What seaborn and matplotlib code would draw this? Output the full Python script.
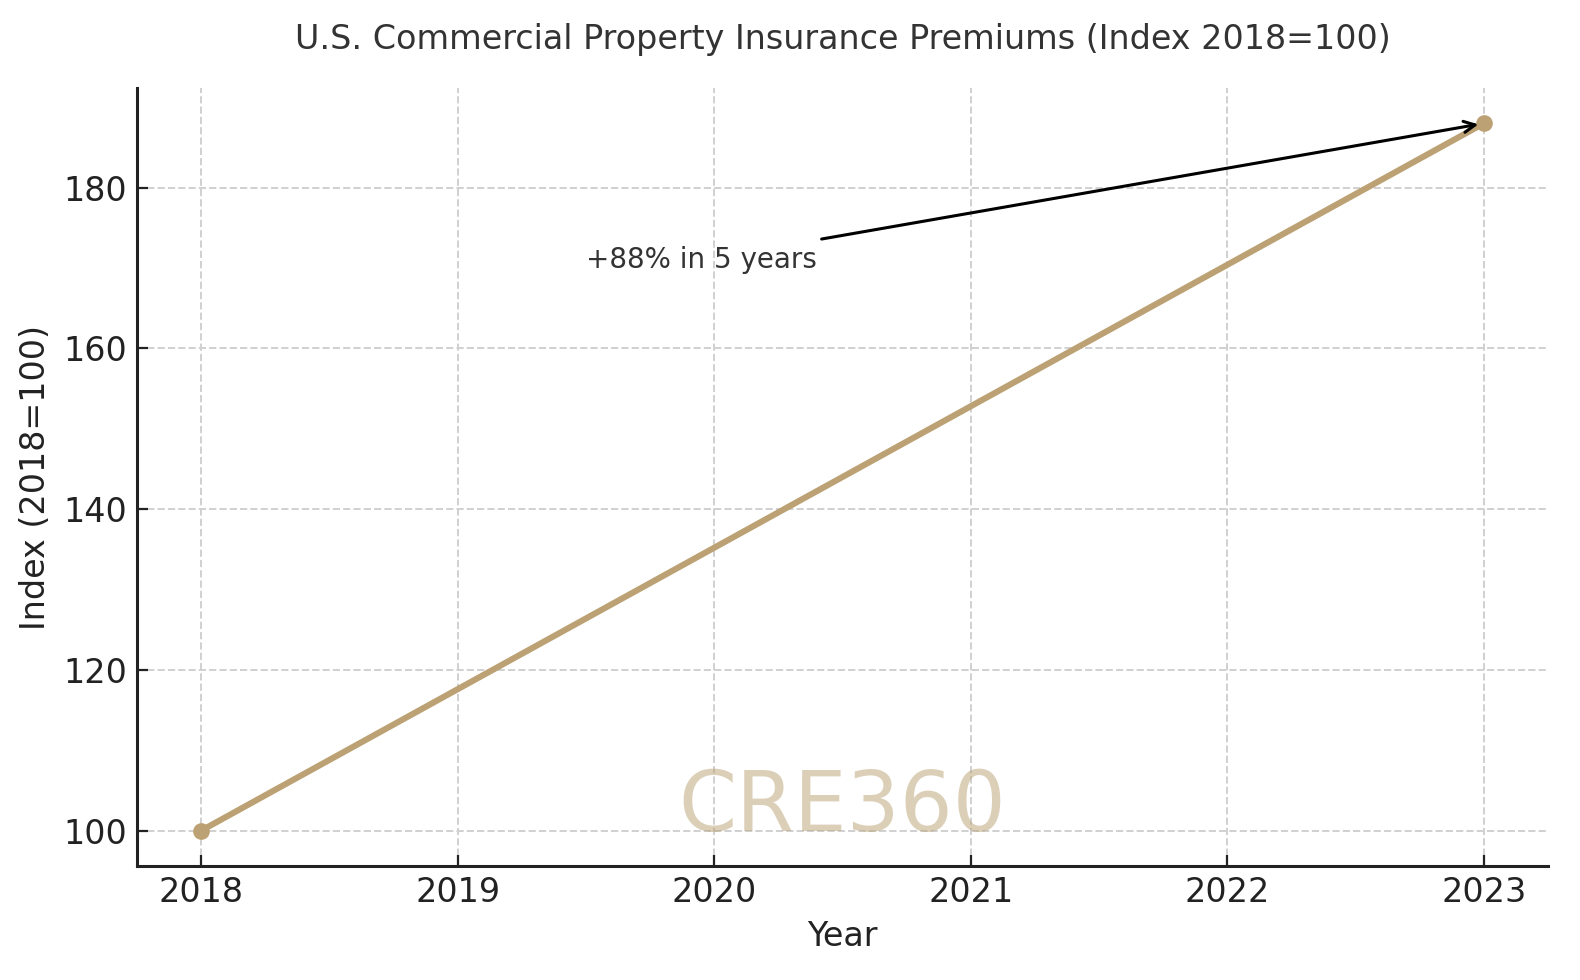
import matplotlib
matplotlib.use("Agg")
import matplotlib.pyplot as plt
import seaborn as sns
import pandas as pd

# data
years = [2018, 2023]
index_values = [100, 188]
yticks = [100, 120, 140, 160, 180]

df = pd.DataFrame({"Year": years, "Index": index_values})

sns.set_style("ticks")
plt.rcParams["font.family"] = ["DejaVu Sans"]

line_color = "#BBA173"

fig, ax = plt.subplots(figsize=(7.9, 4.9), dpi=200)
sns.lineplot(data=df, x="Year", y="Index", marker="o", color=line_color,
             linewidth=2.2, markersize=6, markeredgewidth=0, ax=ax)

ax.set_title("U.S. Commercial Property Insurance Premiums (Index 2018=100)",
             fontsize=12, color="#333333", pad=14)
ax.set_xlabel("Year", fontsize=12, color="#222222")
ax.set_ylabel("Index (2018=100)", fontsize=12, color="#222222")
ax.set_xticks(range(years[0], years[-1] + 1))
ax.set_yticks(yticks)
ax.tick_params(direction="in", labelsize=12, colors="#222222", length=4)
ax.grid(True, linestyle="--", color="#d0d0d0", linewidth=0.7)
sns.despine(ax=ax)
for s in ["left", "bottom"]:
    ax.spines[s].set_linewidth(1.1)
    ax.spines[s].set_color("#222222")

ax.annotate("+88% in 5 years", xy=(years[-1], index_values[-1]), xytext=(2019.5, 170),
            fontsize=10, color="#333333",
            arrowprops=dict(arrowstyle="->", color="black", lw=1.1))

ax.text(0.5, 0.075, "CRE360", transform=ax.transAxes, ha="center", va="center",
        fontsize=30, color=line_color, alpha=0.5)

fig.subplots_adjust(left=0.0867, right=0.9797, top=0.9102, bottom=0.1163)
fig.savefig("out.png", dpi=200)
